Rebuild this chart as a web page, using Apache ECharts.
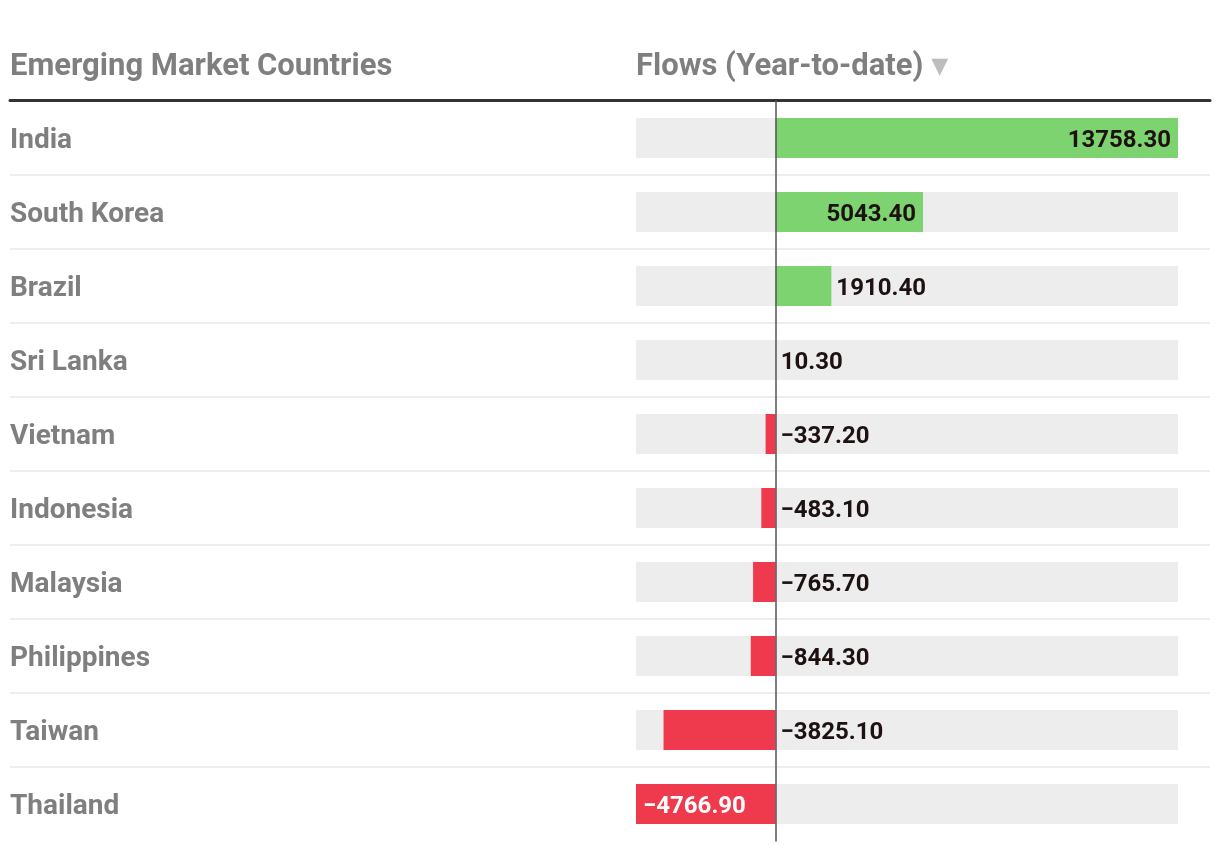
<!DOCTYPE html>
<html>
<head>
<meta charset="utf-8">
<script src="https://cdn.jsdelivr.net/npm/echarts@6/dist/echarts.min.js"></script>
<style>
html,body{margin:0;padding:0;background:#fff;}
#chart{width:1220px;height:850px;}
</style>
</head>
<body>
<div id="chart"></div>
<script>
const categories = ['India','South Korea','Brazil','Sri Lanka','Vietnam','Indonesia','Malaysia','Philippines','Taiwan','Thailand'];
const flows = [13758.30, 5043.40, 1910.40, 10.30, -337.20, -483.10, -765.70, -844.30, -3825.10, -4766.90];
const headerLeft = 'Emerging Market Countries';
const headerRight = 'Flows (Year-to-date)';

const GREEN = '#7dd36f';
const RED = '#ee3a4c';
const FONT = 'Roboto';

function fmt(v){ return (v < 0 ? '\u2212' : '') + Math.abs(v).toFixed(2); }

const barData = flows.map(function(v){
  const inside = Math.abs(v) > 4000;
  let label;
  if (inside) {
    label = { position: v >= 0 ? 'insideRight' : 'insideLeft', color: v >= 0 ? '#1d1111' : '#ffffff', distance: 7 };
  } else {
    label = { position: 'right', color: '#1d1111', distance: 5 };
  }
  return { value: v, itemStyle: { color: v >= 0 ? GREEN : RED }, label: label };
});

// separators sit between rows: one fewer band than rows
const sepRows = categories.slice(0, categories.length - 1);

const chart = echarts.init(document.getElementById('chart'), null, {renderer:'canvas'});
chart.setOption({
  animation: false,
  backgroundColor: '#ffffff',
  title: [
    { text: headerLeft, left: 10, top: 49, padding: 0,
      textStyle: { fontFamily: FONT, fontSize: 31, fontWeight: 'bold', color: '#7f7f7f', lineHeight: 36 } },
    { text: '{a|' + headerRight + '}{b|\u25BC}', left: 636, top: 49, padding: 0,
      textStyle: { rich: {
        a: { fontFamily: FONT, fontSize: 31, fontWeight: 'bold', color: '#7f7f7f', lineHeight: 36 },
        b: { fontFamily: 'DejaVu Sans', fontSize: 22, color: '#bdbdbd', lineHeight: 36, padding: [0,0,0,8] }
      } } }
  ],
  grid: [
    { left: 636, right: 42, top: 101, height: 740 },
    { left: 10, right: 10, top: 101, height: 666 }
  ],
  xAxis: [
    { gridIndex: 0, type: 'value', min: 'dataMin', max: 'dataMax', show: false },
    { gridIndex: 1, type: 'value', position: 'top', min: 0, max: 1, offset: 1,
      axisLine: { show: true, lineStyle: { color: '#333333', width: 3 } },
      axisTick: { show: false }, axisLabel: { show: false }, splitLine: { show: false } }
  ],
  yAxis: [
    { gridIndex: 0, type: 'category', inverse: true, data: categories, z: 5, position: 'left',
      axisLine: { show: true, onZero: true, lineStyle: { color: '#555555', width: 1.5 } },
      axisTick: { show: false }, axisLabel: { show: false }, splitLine: { show: false } },
    { gridIndex: 1, type: 'category', inverse: true, data: sepRows,
      axisLine: { show: false }, axisTick: { show: false }, axisLabel: { show: false },
      splitLine: { show: true, interval: function(i){ return i > 0; }, lineStyle: { color: '#eeeeee', width: 2 } } },
    { gridIndex: 0, type: 'category', inverse: true, data: categories, position: 'left', offset: 0,
      axisLine: { show: false, onZero: false }, axisTick: { show: false }, splitLine: { show: false },
      axisLabel: { margin: 626, align: 'left', verticalAlign: 'top', lineHeight: 6, fontFamily: FONT, fontSize: 28, fontWeight: 'bold', color: '#7f7f7f' } }
  ],
  series: [
    { type: 'bar', xAxisIndex: 0, yAxisIndex: 0, data: barData, barWidth: 40,
      showBackground: true, backgroundStyle: { color: '#ededed' },
      label: { show: true, fontFamily: FONT, fontSize: 24, fontWeight: 'bold', offset: [0, 3],
        formatter: function(p){ return fmt(p.value); } } }
  ]
});
</script>
</body>
</html>
